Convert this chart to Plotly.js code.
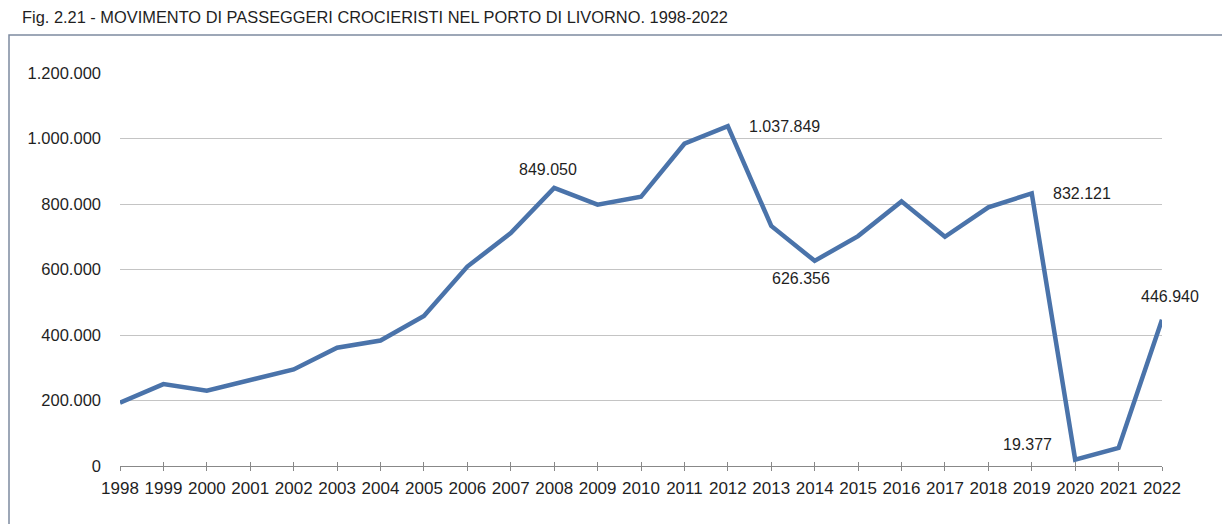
<!DOCTYPE html>
<html>
<head>
<meta charset="utf-8">
<script src="https://cdn.plot.ly/plotly-3.0.1.min.js"></script>
<style>
html,body{margin:0;padding:0;background:#fff;}
#chart{width:1222px;height:524px;}
</style>
</head>
<body>
<div id="chart"></div>
<script>
const years = [1998,1999,2000,2001,2002,2003,2004,2005,2006,2007,2008,2009,2010,2011,2012,2013,2014,2015,2016,2017,2018,2019,2020,2021,2022];
const passengers = [193000,250000,230000,263000,295000,361000,383000,458000,609000,711000,849050,798000,822000,984000,1037849,733000,626356,702000,808000,700000,790000,832121,19377,55000,446940];
const labelYears = [2008,2012,2014,2019,2020,2022];
const yTicks = [0,200000,400000,600000,800000,1000000,1200000];
const titleText = 'Fig. 2.21 - MOVIMENTO DI PASSEGGERI CROCIERISTI NEL PORTO DI LIVORNO. 1998-2022';

const FONT = '"Liberation Sans", Arial, sans-serif';
const labelOffsets = {
  2008: [-6, 18],
  2012: [57, 0],
  2014: [-14, -18],
  2019: [50, 0],
  2020: [-48, 15],
  2022: [8, 23]
};
function fmt(v){ return String(v).replace(/\B(?=(\d{3})+(?!\d))/g, '.'); }

const annotations = labelYears.map(function(yr){
  const i = years.indexOf(yr);
  return {
    x: yr, y: passengers[i], xref: 'x', yref: 'y',
    text: fmt(passengers[i]), showarrow: false,
    xshift: labelOffsets[yr][0], yshift: labelOffsets[yr][1],
    font: {family: FONT, size: 16, color: '#1f1f1f'}
  };
});

const trace = {
  x: years, y: passengers, type: 'scatter', mode: 'lines',
  line: {color: '#4a73aa', width: 4.5},
  hoverinfo: 'skip', cliponaxis: false
};

const layout = {
  width: 1222, height: 524,
  margin: {l: 120, r: 60, t: 73, b: 58},
  paper_bgcolor: '#ffffff', plot_bgcolor: '#ffffff',
  separators: ',.',
  showlegend: false,
  title: {
    text: titleText, xref: 'container', yref: 'container',
    x: 22/1222, xanchor: 'left', y: 1 - 17/524, yanchor: 'middle',
    font: {family: FONT, size: 16.4, color: '#1f1f1f'}
  },
  xaxis: {
    range: [1998, 2022], tickmode: 'array', tickvals: years,
    ticktext: years.map(String),
    showgrid: false, zeroline: false,
    showline: true, linecolor: '#888888', linewidth: 1,
    ticks: 'outside', ticklen: 4, tickcolor: '#888888', tickwidth: 1,
    ticklabelstandoff: 3,
    tickfont: {family: FONT, size: 17, color: '#1f1f1f'}
  },
  xaxis2: {
    range: [1998, 2022], overlaying: 'x', anchor: 'y', side: 'bottom',
    tickmode: 'array', tickvals: years, showticklabels: false,
    showgrid: false, zeroline: false, showline: false,
    ticks: 'inside', ticklen: 4, tickcolor: '#888888', tickwidth: 1
  },
  yaxis: {
    range: [0, 1200000], tickmode: 'array', tickvals: yTicks,
    ticktext: yTicks.map(fmt),
    showgrid: true, gridcolor: '#c4c4c4', gridwidth: 1,
    zeroline: false, showline: false, ticks: '',
    ticklabelstandoff: 18,
    tickfont: {family: FONT, size: 16.5, color: '#1f1f1f'}
  },
  annotations: annotations,
  shapes: [{
    type: 'rect', xref: 'paper', yref: 'paper',
    x0: (9 - 120) / 1042, x1: 1.3,
    y0: -0.5, y1: (466 - 35) / 393,
    line: {color: '#7d8ba0', width: 1.5}, fillcolor: 'rgba(0,0,0,0)', layer: 'below'
  }]
};

const trace2 = {x: [1998], y: [null], xaxis: 'x2', yaxis: 'y', type: 'scatter', mode: 'lines', hoverinfo: 'skip'};

Plotly.newPlot('chart', [trace2, trace], layout, {staticPlot: true, displayModeBar: false});
</script>
</body>
</html>
